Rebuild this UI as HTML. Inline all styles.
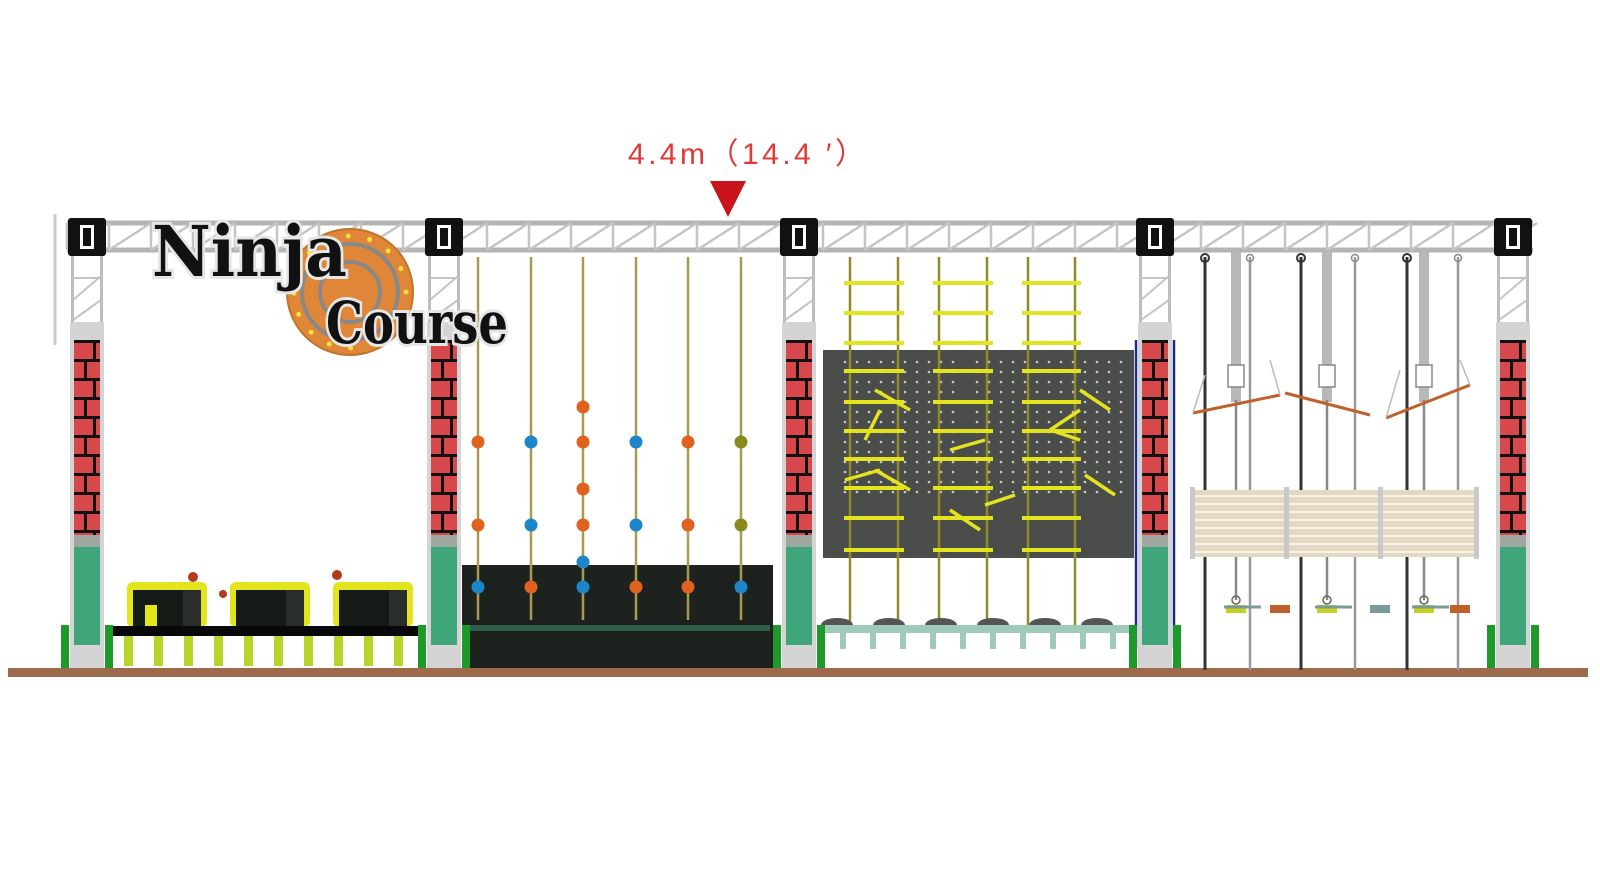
<!DOCTYPE html>
<html><head><meta charset="utf-8"><style>
html,body{margin:0;padding:0;background:#fff;width:1600px;height:873px;overflow:hidden}
svg{display:block}
</style></head><body>
<svg id="s" width="1600" height="873" viewBox="0 0 1600 873" xmlns="http://www.w3.org/2000/svg">
<rect width="1600" height="873" fill="#fff"/>
<text x="628" y="164" font-family="'Liberation Sans','Noto Sans CJK SC',sans-serif" font-size="30" fill="#e0393a" textLength="237" lengthAdjust="spacing">4.4m（14.4 ′）</text>
<polygon points="710,181 746,181 728,217" fill="#c8141a"/>
<line x1="55" y1="214" x2="55" y2="345" stroke="#ccc" stroke-width="3"/>
<g id="g"></g>
</svg>
<script>
var g=document.getElementById('g'),h='';
function R(x,y,w,ht,f,ex){h+='<rect x="'+x+'" y="'+y+'" width="'+w+'" height="'+ht+'" fill="'+f+'" '+(ex||'')+'/>';}
function L(a,b,c,d,s,w){h+='<line x1="'+a+'" y1="'+b+'" x2="'+c+'" y2="'+d+'" stroke="'+s+'" stroke-width="'+w+'"/>';}
function C(x,y,r,f,ex){h+='<circle cx="'+x+'" cy="'+y+'" r="'+r+'" fill="'+f+'" '+(ex||'')+'/>';}
R(8,668,1580,9,'#9b6b4b');
L(67,223,1533,223,'#b4b4b4',5);L(67,250,1533,250,'#b4b4b4',5);
for(var x=67,i=0;x<1533;x+=42,i++){L(x,223,x,250,'#c4c4c4',2.5);L(x,250,x+42,223,'#c4c4c4',2.5);}
var P=[87,444,799,1155,1513];
[127,230,333].forEach(function(x){R(x,582,80,45,'#e3e51c','rx="6"');R(x+6,590,50,37,'#141a16');R(x+56,590,18,37,'#2a2e2a');});
R(145,605,12,22,'#e3e51c');C(193,577,5,'#b33b1c');C(223,594,4,'#b33b1c');C(337,575,5,'#b33b1c');
R(113,626,305,10,'#080808');
for(var x=124;x<410;x+=30)R(x,636,9,30,'#b7d42a');
R(462,565,311,103,'#1d221f');R(470,625,300,6,'#2e5e4a');
var rx=[478,531,583,636,688,741];
rx.forEach(function(x){L(x,257,x,620,'#a89a50',2.5);});
var O='#e0621e',B='#1c86c8',V='#8a8a1e';
var r1=[O,B,O,B,O,V],r3=[B,O,B,O,O,B];
rx.forEach(function(x,i){C(x,442,6.5,r1[i]);C(x,525,6.5,r1[i]);C(x,587,6.5,r3[i]);});
C(583,407,6.5,O);C(583,489,6.5,O);C(583,562,6.5,B);
R(823,350,311,208,'#4a4d4a');
for(var y=362;y<500;y+=10)for(var x=845;x<1125;x+=12){if(x>958&&x<975)continue;C(x,y,1.3,'#c8c8c8');}
[[850,898],[939,987],[1028,1075]].forEach(function(p){L(p[0],257,p[0],628,'#8f8a2a',2.5);L(p[1],257,p[1],628,'#8f8a2a',2.5);
[283,313,343,371,402,431,459,488,518,550].forEach(function(y){L(p[0]-6,y,p[1]+6,y,'#e4e41e',4);});});
[[875,390,910,410],[880,410,865,440],[845,480,880,470],[875,470,910,490],[950,450,985,440],[950,510,980,530],[985,505,1015,495],[1080,390,1110,410],[1080,410,1050,430],[1085,475,1115,495],[1050,430,1080,440]].forEach(function(a){L(a[0],a[1],a[2],a[3],'#e4e41e',3.5);});
for(var i=0;i<6;i++){h+='<ellipse cx="'+(837+i*52)+'" cy="625" rx="16" ry="7" fill="#555"/>';}
R(825,625,305,8,'#9fc9b8');for(var x=840;x<1125;x+=30)R(x,633,6,16,'#9fc9b8');
L(1136,340,1136,648,'#1b2d8a',2.5);L(1174,340,1174,648,'#1b2d8a',2.5);
[1205,1301,1407].forEach(function(x){L(x,257,x,670,'#333',3);C(x,258,4,'none','stroke="#333" stroke-width="2"');});
[1236,1327,1424].forEach(function(x){R(x-5,252,10,150,'#b8b8b8');R(x-8,365,16,22,'#fff','stroke="#888" stroke-width="1.5"');L(x,400,x,600,'#888',2.5);C(x,600,4,'none','stroke="#666" stroke-width="1.5"');});
[1250,1355,1458].forEach(function(x){L(x,257,x,670,'#999',2.5);C(x,258,3.5,'none','stroke="#888" stroke-width="1.5"');});
L(1193,413,1280,395,'#c0602a',3);L(1285,393,1370,415,'#c0602a',3);L(1386,418,1470,385,'#c0602a',3);
L(1193,413,1205,375,'#bbb',1.5);L(1280,395,1270,360,'#bbb',1.5);L(1386,418,1400,370,'#bbb',1.5);L(1470,385,1460,360,'#bbb',1.5);
R(1192,490,286,67,'#e3d9c3');
for(var y=496;y<556;y+=8)L(1194,y,1476,y,'#f6f2ea',2);
[1192,1286,1380,1476].forEach(function(x){R(x-2,487,5,72,'#c9c9c9');});
[[1236,'#c8d21e'],[1280,'#c0602a'],[1327,'#c8d21e'],[1380,'#7a9a98'],[1424,'#c8d21e'],[1460,'#c0602a']].forEach(function(a){R(a[0]-10,605,20,8,a[1]);});
[1236,1327,1424].forEach(function(x){L(x-12,607,x+25,607,'#7a9a98',3);});
P.forEach(function(c){
 R(c-16,256,3,66,'#bdbdbd');R(c+13,256,3,66,'#bdbdbd');
 L(c-14,300,c+14,276,'#c4c4c4',2);L(c-14,320,c+14,300,'#c4c4c4',2);L(c-14,278,c+14,278,'#c4c4c4',2);
 R(c-17,322,34,346,'#d4d4d4');
 R(c-13,340,26,195,'#d7484d');
 for(var y=340,k=0;y<535;y+=19,k++){R(c-13,y,26,3,'#111');var o=k%2?c-3:c+6;R(o,y,3,19,'#111');}
 R(c-13,535,26,12,'#9ea7a0');R(c-13,547,26,98,'#3fa67c');
 R(c-26,625,8,43,'#1d9a2a');R(c+18,625,8,43,'#1d9a2a');
 R(c-19,218,38,38,'#111','rx="3"');R(c-7,225,14,24,'#fff');R(c-4,228,8,18,'#111');
});
h+='<circle cx="350" cy="292" r="63" fill="#e08638" stroke="#c07428" stroke-width="2"/>';
h+='<circle cx="350" cy="292" r="48" fill="none" stroke="#888" stroke-width="4"/><circle cx="350" cy="292" r="30" fill="none" stroke="#888" stroke-width="4"/>';
for(var a=0;a<16;a++){C(350+56*Math.cos(a*0.39),292+56*Math.sin(a*0.39),2.5,'#f2e23a');}
h+='<text x="152" y="276" font-family="\'DejaVu Serif\',serif" font-weight="bold" font-size="70" fill="#111" stroke="#e6e6e6" stroke-width="6" paint-order="stroke" textLength="195" lengthAdjust="spacingAndGlyphs">Ninja</text>';
h+='<text x="326" y="343" font-family="\'DejaVu Serif\',serif" font-weight="bold" font-size="58" fill="#111" stroke="#e6e6e6" stroke-width="6" paint-order="stroke" textLength="182" lengthAdjust="spacingAndGlyphs">Course</text>';
g.innerHTML=h;
</script>
</body></html>
